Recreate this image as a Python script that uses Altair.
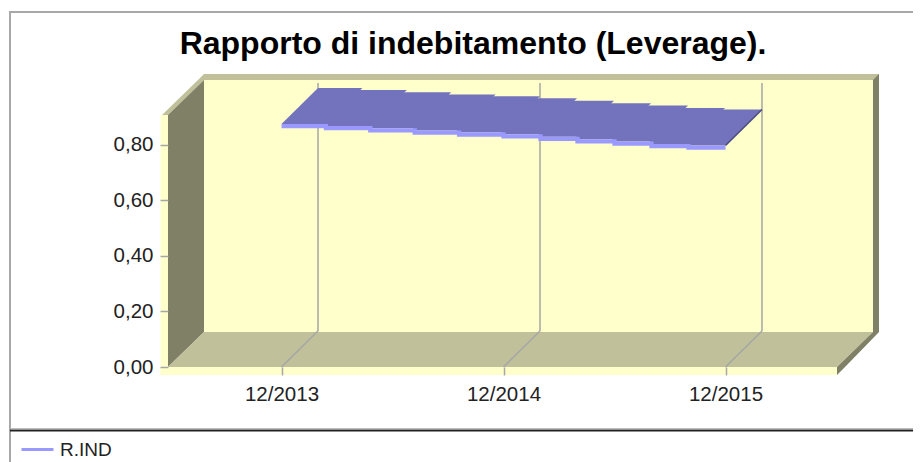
import altair as alt
import pandas as pd

# Data
TITLE = "Rapporto di indebitamento (Leverage)."
SERIES = "R.IND"
YEARS = [2013, 2014, 2015]
Y_TICKS = [0.0, 0.2, 0.4, 0.6, 0.8]
STEP_X = [2013.0, 2013.2, 2013.4, 2013.6, 2013.8, 2014.0,
          2014.1667, 2014.3333, 2014.5, 2014.6667, 2014.8333, 2015.0]
STEP_V = [0.874, 0.867, 0.859, 0.851, 0.844, 0.837,
          0.828, 0.819, 0.811, 0.802, 0.797]

# Layout: conversion between screen pixels and the two scales
PX_PER_YEAR = 222.0
PX_PER_UNIT = 278.0
X_ZERO = 281.5
Y_ZERO = 367.0
PLOT_L, PLOT_R, PLOT_T = 168, 837, 74


def X(px):
    return 2013 + (px - X_ZERO) / PX_PER_YEAR


def Y(px):
    return (Y_ZERO - px) / PX_PER_UNIT


FONT = "Liberation Sans"
DEPTH_X = 36.5 / PX_PER_YEAR
DEPTH_Y = 36 / PX_PER_UNIT
THICK = 4.3 / PX_PER_UNIT
OVERLAP = 4 / PX_PER_YEAR

C_WALL, C_TAN, C_DARK = "#FFFFCC", "#C0C09A", "#808066"
C_GRID = "#A6A6A6"
C_TOP, C_FRONT, C_END = "#7373BD", "#9999FF", "#4A4A80"

x_scale = alt.Scale(domain=[X(PLOT_L), X(PLOT_R)], nice=False, zero=False)
y_scale = alt.Scale(domain=[0, Y(PLOT_T)], nice=False, zero=False)

x_enc = alt.X("x:Q", scale=x_scale, title=None)
y_enc = alt.Y("y:Q", scale=y_scale, title=None)


def shape(rows, color):
    df = pd.DataFrame(
        [{"y": Y(r[0]), "x": X(r[1]), "x2": X(r[2])} for r in rows]
    )
    return alt.Chart(df).mark_area(orient="horizontal", color=color).encode(
        x=x_enc, x2="x2:Q", y=y_enc
    )


def rule(x1, x2, y1, y2, color, width):
    df = pd.DataFrame([{"x": x1, "x2": x2, "y": y1, "y2": y2}])
    return alt.Chart(df).mark_rule(color=color, strokeWidth=width).encode(
        x=x_enc, x2="x2:Q", y=y_enc, y2="y2:Q"
    )


# axes come first so that their settings win; zindex keeps them above the marks
axes = alt.Chart(pd.DataFrame({"x": [YEARS[0]], "y": [Y_TICKS[0]]})).mark_point(opacity=0).encode(
    x=alt.X(
        "x:Q",
        scale=x_scale,
        title=None,
        axis=alt.Axis(
            values=YEARS,
            labelExpr="'12/' + datum.value",
            grid=False,
            domain=False,
            tickColor=C_GRID,
            tickSize=8,
            tickWidth=1.5,
            labelPadding=9,
            labelFont=FONT,
            labelFontSize=20.5,
            labelColor="#222222",
            zindex=1,
        ),
    ),
    y=alt.Y(
        "y:Q",
        scale=y_scale,
        title=None,
        axis=alt.Axis(
            values=Y_TICKS,
            labelExpr="replace(format(datum.value, '.2f'), '.', ',')",
            grid=False,
            domain=False,
            tickColor=C_GRID,
            tickSize=8,
            tickWidth=1.5,
            labelPadding=7,
            labelFont=FONT,
            labelFontSize=20.5,
            labelColor="#222222",
            zindex=1,
        ),
    ),
)

layers = [
    axes,
    # frame of the picture
    rule(X(10), X(10), Y(11), Y(462), "#A8A8A8", 2),
    rule(X(9), X(921), Y(12), Y(12), "#A8A8A8", 2),
    rule(X(10), X(921), Y(428.5), Y(428.5), "#BDBDBD", 1),
    rule(X(10), X(921), Y(430.5), Y(430.5), "#222222", 2),
    # box
    shape([(332, 204, 873), (80, 204, 873)], C_WALL),
    shape([(375, 160.5, 168), (115, 160.5, 168)], C_WALL),
    shape([(375, 160.5, 837), (367, 160.5, 837)], C_WALL),
    shape([(115, 162, 168), (80, 198, 204), (74, 204, 204)], C_TAN),
    shape([(80, 204, 879), (74, 204, 879)], C_TAN),
    shape([(367, 168, 168), (332, 168, 204), (115, 168, 204), (80, 204, 204)], C_DARK),
    shape([(367, 168, 837), (332, 204, 873)], C_TAN),
    shape([(375, 837, 837), (367, 837, 845), (332, 873, 879), (80, 873, 879), (74, 879, 879)], C_DARK),
]

# gridlines running up the floor and the back wall
for yr in YEARS:
    layers.append(rule(yr, yr + DEPTH_X, 0, DEPTH_Y, C_GRID, 1.5))
    layers.append(rule(yr + DEPTH_X, yr + DEPTH_X, DEPTH_Y, Y(83), C_GRID, 1.5))

# top face of the 3D ribbon, one sheared piece per step
top_rows = []
for i, v in enumerate(STEP_V):
    start = STEP_X[i] - (OVERLAP if i else 0)
    end = STEP_X[i + 1]
    top_rows.append({"step": i, "y": v, "x": start, "x2": end})
    top_rows.append({"step": i, "y": v + DEPTH_Y, "x": start + DEPTH_X, "x2": end + DEPTH_X})
layers.append(
    alt.Chart(pd.DataFrame(top_rows)).mark_area(orient="horizontal", color=C_TOP).encode(
        x=x_enc, x2="x2:Q", y=y_enc, detail="step:N"
    )
)

# slanted end of the ribbon
layers.append(rule(STEP_X[-1], STEP_X[-1] + DEPTH_X, STEP_V[-1], STEP_V[-1] + DEPTH_Y, C_END, 1.5))

# front face of the ribbon, carrying the legend
front = pd.DataFrame(
    {
        "x": STEP_X,
        "y": [v - THICK / 2 for v in STEP_V] + [STEP_V[-1] - THICK / 2],
        "series": [SERIES] * len(STEP_X),
    }
)
layers.append(
    alt.Chart(front).mark_line(interpolate="step-after", strokeWidth=4.3).encode(
        x=x_enc,
        y=y_enc,
        color=alt.Color(
            "series:N",
            scale=alt.Scale(domain=[SERIES], range=[C_FRONT]),
            legend=alt.Legend(
                orient="none",
                legendX=20 - PLOT_L,
                legendY=432 - PLOT_T,
                padding=0,
                title=None,
                symbolType="stroke",
                symbolSize=1024,
                symbolStrokeWidth=3,
                labelFont=FONT,
                labelFontSize=19,
                labelColor="#222222",
                labelOffset=5,
            ),
        ),
    )
)

# chart title, placed over the box
title_df = pd.DataFrame({"x": [X(473)], "y": [Y(53.5)], "t": [TITLE]})
layers.append(
    alt.Chart(title_df)
    .mark_text(font=FONT, fontSize=32, fontWeight="bold", color="#000000", align="center", baseline="alphabetic")
    .encode(x=x_enc, y=y_enc, text="t:N")
)

chart = (
    alt.layer(*layers)
    .properties(
        width=PLOT_R - PLOT_L,
        height=int(Y_ZERO - PLOT_T),
        padding={"left": PLOT_L - 8, "top": PLOT_T - 8, "right": 913 - PLOT_R, "bottom": 462 - int(Y_ZERO)},
        autosize=alt.AutoSizeParams(type="none"),
        background="#FFFFFF",
    )
    .configure_view(stroke=None)
)

chart.save("out.html", embed_options={"renderer": "svg", "actions": False})
